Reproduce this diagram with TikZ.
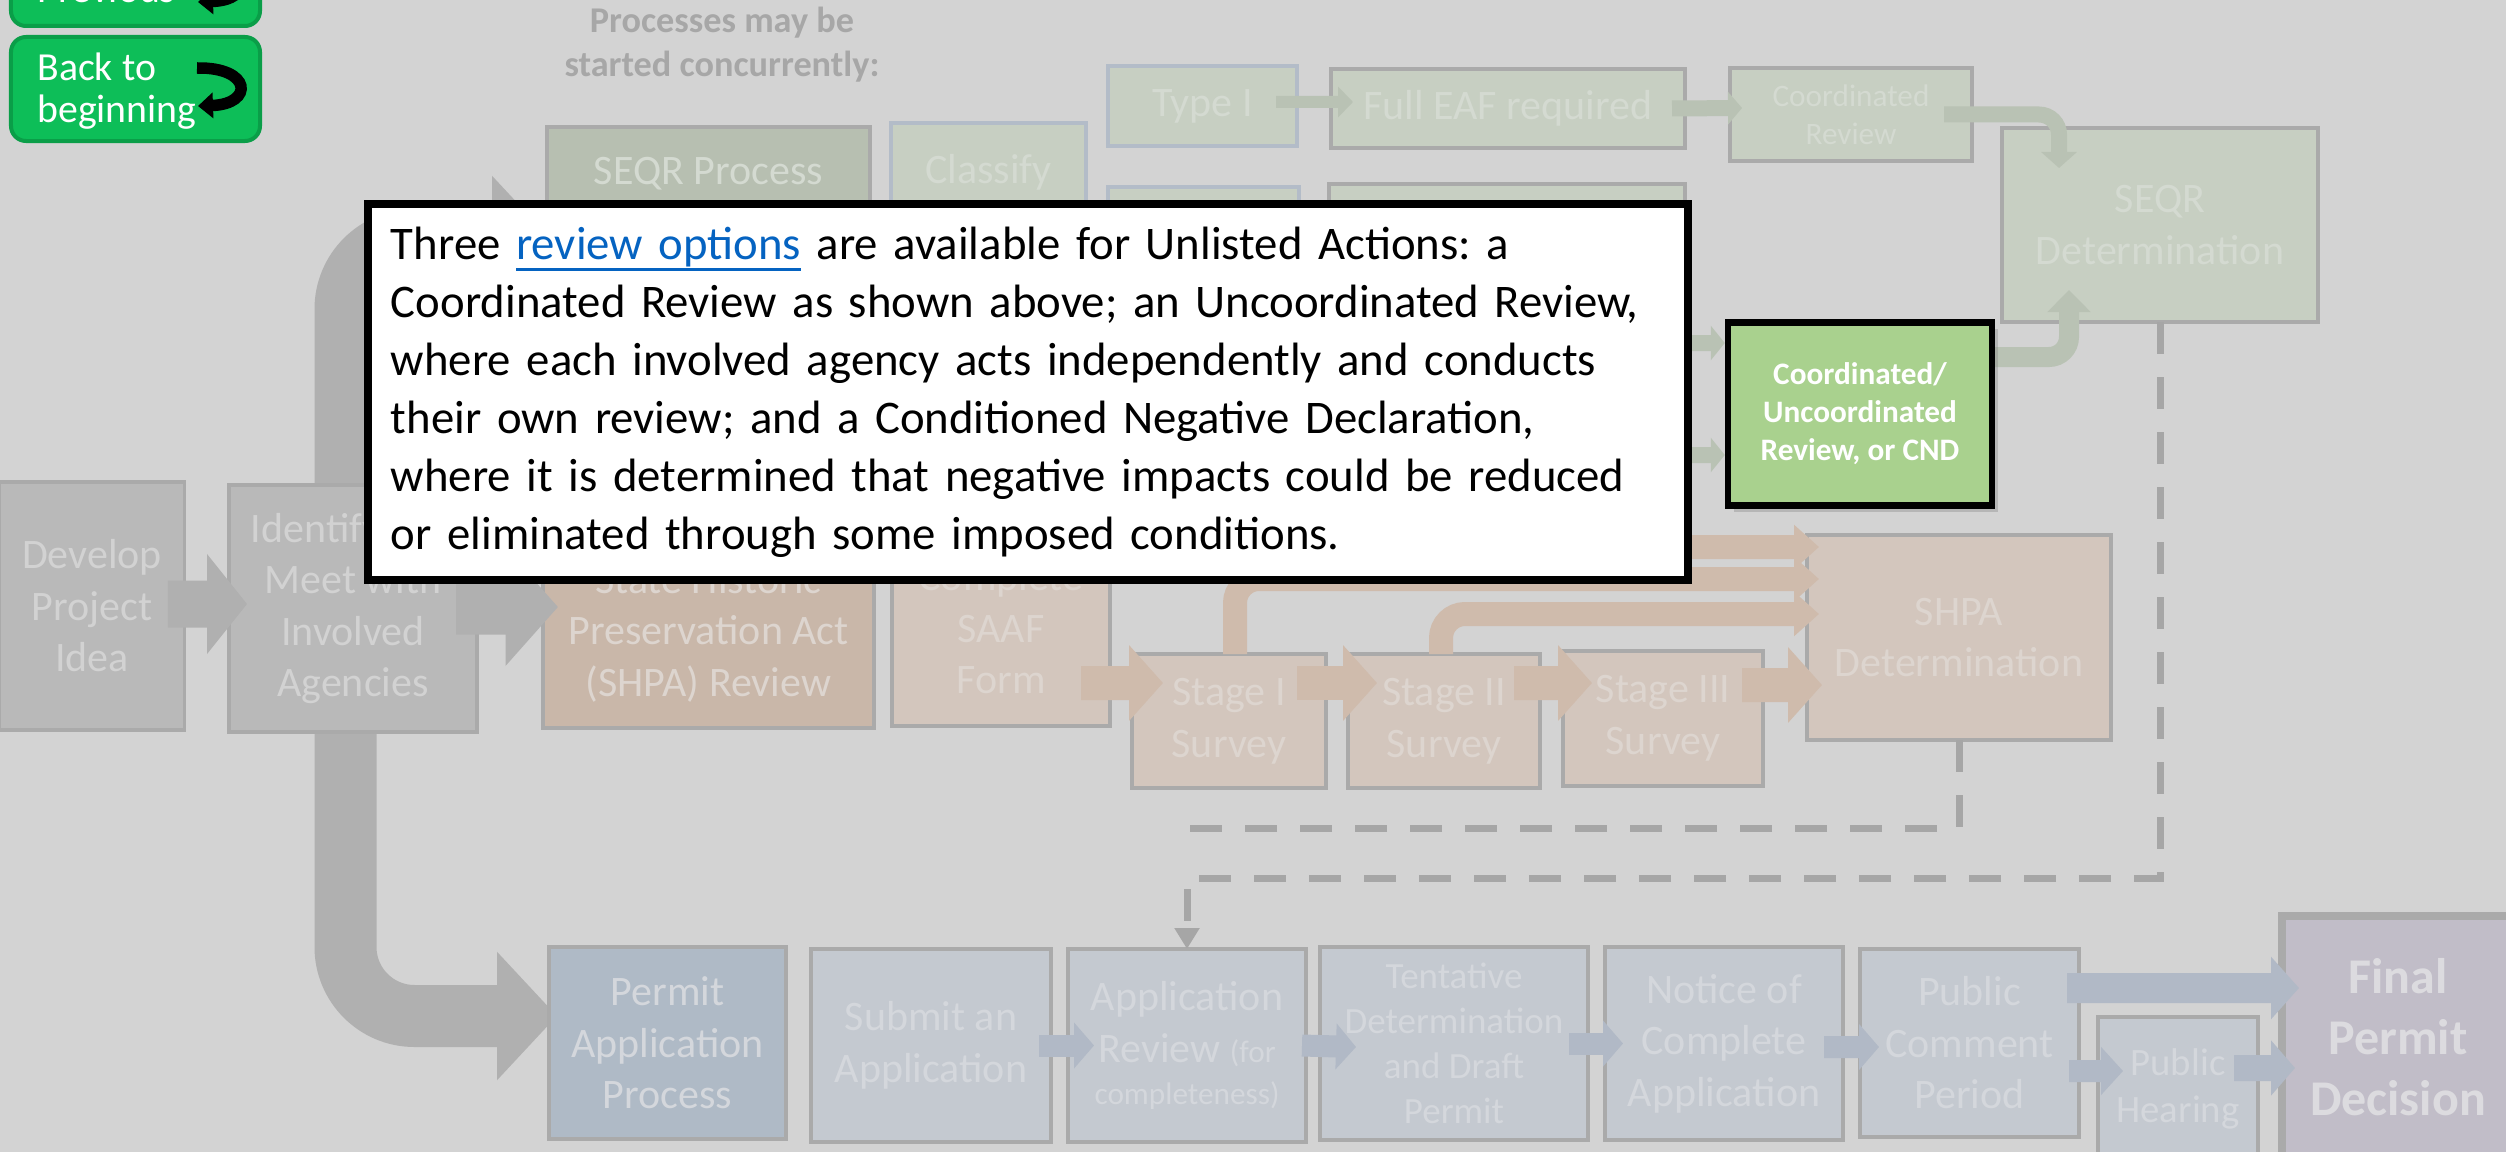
\documentclass[tikz,border=0pt]{standalone}
\usepackage{fontspec}
\setmainfont{Carlito}
\usetikzlibrary{arrows.meta,shadows}
\pgfdeclarelayer{back}
\pgfdeclarelayer{front}
\pgfsetlayers{back,main,front}

\definecolor{bgcol}{HTML}{D3D3D3}
\definecolor{edgecol}{HTML}{AAAAAA}
\definecolor{blueedge}{HTML}{B3BCC8}
\definecolor{grayfill}{HTML}{B9B9B9}
\definecolor{graytxt}{HTML}{D2D2D2}
\definecolor{grayarrow}{HTML}{B0B0B0}
\definecolor{seqrfill}{HTML}{C7CFC2}
\definecolor{seqrdark}{HTML}{B7BFB1}
\definecolor{seqrtxt}{HTML}{D4DAD1}
\definecolor{seqrarrow}{HTML}{B9C2B4}
\definecolor{tanfill}{HTML}{D3C6BD}
\definecolor{tandark}{HTML}{C9B7A9}
\definecolor{tantxt}{HTML}{DDD5CF}
\definecolor{tanarrow}{HTML}{CFBBAC}
\definecolor{permfill}{HTML}{C4C9D0}
\definecolor{permdark}{HTML}{AFBAC6}
\definecolor{permtxt}{HTML}{D4D7DC}
\definecolor{permarrow}{HTML}{B1B9C6}
\definecolor{finalfill}{HTML}{C1BDC8}
\definecolor{finaltxt}{HTML}{DCDBDF}
\definecolor{cndgreen}{HTML}{A9D18E}
\definecolor{btngreen}{HTML}{0DBE58}
\definecolor{btnedge}{HTML}{0A9E48}
\definecolor{titlegray}{HTML}{A7A7A7}
\definecolor{dashgray}{HTML}{A6A6A6}
\definecolor{linkblue}{HTML}{0563C1}

\newcommand\bxfont{\fontsize{16.8}{20.6}\selectfont}
\newcommand\smfont{\fontsize{14.8}{18}\selectfont}
\newcommand\tyfont{\fontsize{12.5}{15.2}\selectfont}
\newcommand\hrfont{\fontsize{15.5}{18.8}\selectfont}
\newcommand\finfont{\fontsize{20}{24.4}\selectfont\bfseries}
\newcommand\cndfont{\fontsize{12.5}{15.2}\selectfont\bfseries}
\newcommand\notefont{\fontsize{18.7}{23.2}\selectfont\frenchspacing}
\newcommand\linkul[1]{\setbox0\hbox{#1}\rlap{\rule[-4.6pt]{\wd0}{1.1pt}}\box0}

\begin{document}
\begin{tikzpicture}[x=0.4pt,y=-0.4pt,
  sz/.style 2 args={minimum width=#1, minimum height=#2},
  box/.style={draw=edgecol, line width=1.4pt, inner sep=0pt, outer sep=0pt, align=center, font=\bxfont},
  graybox/.style={box, fill=grayfill, text=graytxt},
  seqrbox/.style={box, fill=seqrfill, text=seqrtxt},
  tanbox/.style={box, fill=tanfill, text=tantxt},
  permbox/.style={box, fill=permfill, text=permtxt},
  arr/.style n args={3}{line width=#1, -{Triangle[width=#2,length=#3]}},
  grayarr/.style={draw=grayarrow},
  seqrarr/.style={draw=seqrarrow},
  tanarr/.style={draw=tanarrow},
  permarr/.style={draw=permarrow},
  dashln/.style={draw=dashgray, line width=2.8pt, dash pattern=on 12.8pt off 9.2pt},
  btn/.style={fill=btngreen, draw=btnedge, line width=1.6pt, rounded corners=6pt, sz={99.6pt}{41.6pt}},
  btnlbl/.style={text=white, align=left, inner sep=0pt, font={\fontsize{15.9}{16.6}\selectfont}}]
  \useasboundingbox (0,0) rectangle (2506,1152);
  \begin{pgfonlayer}{back}
    \fill[bgcol] (0,0) rectangle (2506,1152);
  \end{pgfonlayer}

  \node[btn] (prev) at (135.5,-26) {};
  \node[btnlbl, anchor=base west] (prevlbl) at (37,3) {Previous};
  \draw[line width=4.6pt, -{Triangle[width=10pt,length=6pt]}] (197,-35) .. controls (252,-36) and (254,0) .. (198,2);
  \node[btn] (back) at (135.5,89) {};
  \node[btnlbl, anchor=west] (backlbl) at (37,91) {Back to\\beginning};
  \draw[line width=4.6pt, -{Triangle[width=10pt,length=6pt]}] (197,68) .. controls (252,67) and (254,104) .. (198,106);

  \node[font={\fontsize{14.5}{17.6}\selectfont\bfseries}, text=titlegray, align=center] (ttl) at (722,45) {Processes may be\\started concurrently:};

  \node[graybox, sz={73.8pt}{99.2pt}] (devel) at (92,606) {Develop\\Project\\Idea};
  \node[graybox, sz={99.2pt}{98.8pt}] (ident) at (353,608.5) {Identify and\\Meet with\\Involved\\Agencies};

  \node[seqrbox, fill=seqrdark, sz={129.2pt}{37.6pt}] (seqrp) at (708.5,174) {SEQR Process};
  \node[seqrbox, draw=blueedge, sz={78pt}{39.2pt}] (classify) at (988.5,172) {Classify};
  \node[seqrbox, draw=blueedge, sz={75.6pt}{32pt}] (typei) at (1202.5,106) {Type I};
  \node[seqrbox, sz={141.6pt}{31.6pt}] (fulleaf) at (1508,108.5) {Full EAF required};
  \node[seqrbox, sz={96.8pt}{37.2pt}, font=\tyfont] (coordrev) at (1851,114.5) {Coordinated\\Review};
  \node[seqrbox, sz={126.4pt}{77.6pt}] (seqrdet) at (2160,225) {SEQR\\Determination};
  \node[seqrbox, draw=blueedge, sz={76.4pt}{32pt}] (typeii) at (1203.5,227) {};
  \node[seqrbox, sz={142.4pt}{32pt}] (eafii) at (1507,224) {};

  \node[tanbox, fill=tandark, sz={132.4pt}{76pt}] (shpar) at (708.5,633) {State Historic\\Preservation Act\\(SHPA) Review};
  \node[tanbox, sz={87.2pt}{78.4pt}] (saaf) at (1001,628) {Complete\\SAAF\\Form};
  \node[tanbox, sz={77.6pt}{53.6pt}] (stgI) at (1229,721) {Stage I\\Survey};
  \node[tanbox, sz={76.8pt}{53.6pt}] (stgII) at (1444,721) {Stage II\\Survey};
  \node[tanbox, sz={80pt}{54pt}] (stgIII) at (1663,718.5) {Stage III\\Survey};
  \node[tanbox, sz={121.6pt}{82pt}] (shpadet) at (1959,637.5) {SHPA\\Determination};

  \node[permbox, fill=permdark, sz={94.8pt}{76.8pt}] (permit) at (667.5,1043) {Permit\\Application\\Process};
  \node[permbox, sz={96pt}{77.2pt}] (submit) at (931,1045.5) {Submit an\\Application};
  \node[permbox, sz={95.2pt}{77.2pt}] (apprev) at (1187,1045.5) {Application\\Review {\tyfont(for}\\[-3.6pt]{\tyfont completeness)}};
  \node[permbox, sz={107.2pt}{77.2pt}, font=\smfont] (tent) at (1454,1043.5) {Tentative\\Determination\\and Draft\\Permit};
  \node[permbox, sz={95.2pt}{77.2pt}] (notice) at (1724,1043.5) {Notice of\\Complete\\Application};
  \node[permbox, sz={87.6pt}{75.2pt}] (comment) at (1969.5,1043) {Public\\Comment\\Period};
  \node[permbox, sz={64pt}{57.2pt}, font=\hrfont] (hearing) at (2178,1088.5) {Public\\Hearing};
  \node[box, line width=3.2pt, fill=finalfill, text=finaltxt, sz={92.8pt}{97.2pt}, font=\finfont] (final) at (2398,1037.5) {Final\\Permit\\Decision};

  \begin{pgfonlayer}{front}
    \node[draw=black, line width=2.6pt, fill=cndgreen, text=white, sz={105.6pt}{73.2pt}, align=center, font=\cndfont,
      drop shadow={shadow xshift=2.4pt, shadow yshift=-2.4pt, opacity=0.35}] (cnd) at (1860,414) {Coordinated/\\Uncoordinated\\Review, or CND};
    \node[draw=black, line width=3.2pt, fill=white, sz={528pt}{150.4pt}, text width=509.6pt, inner xsep=9.2pt, inner ysep=0pt,
      align=left, font=\notefont] (note) at (1028,392) {Three \textcolor{linkblue}{\linkul{review options}} are available for Unlisted Actions: a\\
      Coordinated Review as shown above; an Uncoordinated Review,\\
      where each involved agency acts independently and conducts\\
      their own review; and a Conditioned Negative Declaration,\\
      where it is determined that negative impacts could be reduced\\
      or eliminated through some imposed conditions.};
  \end{pgfonlayer}

  \coordinate (unl1) at (1640,343);
  \coordinate (unl2) at (1640,455);

  \begin{pgfonlayer}{back}
    \draw[grayarr, arr={24.8pt}{50pt}{24pt}, rounded corners=27.6pt] ([xshift=-3pt]ident.center) |- ([xshift=2pt,yshift=-26.4pt]seqrp.west);
    \draw[grayarr, arr={24.8pt}{50pt}{24pt}, rounded corners=27.6pt] ([xshift=-3pt]ident.center) |- ([xshift=3.2pt,yshift=10.8pt]permit.west);
  \end{pgfonlayer}

  \draw[grayarr, arr={18.8pt}{39.2pt}{16pt}] ([xshift=-6.6pt,yshift=0.8pt]devel.east) -- ([xshift=7.2pt,yshift=1.8pt]ident.west);
  \draw[grayarr, arr={22pt}{46pt}{21pt}] ([xshift=-8.4pt,yshift=0.6pt]ident.east) -- ([xshift=6pt,yshift=10.4pt]shpar.west);

  \draw[seqrarr, arr={4.8pt}{12pt}{6pt}] ([xshift=-8.4pt,yshift=1.6pt]typei.east) -- ([xshift=8.8pt,yshift=2.6pt]fulleaf.west);
  \draw[seqrarr, arr={6.4pt}{12.8pt}{5.6pt}] ([xshift=-5.2pt]fulleaf.east) -- ([xshift=4.8pt,yshift=2.6pt]coordrev.west);
  \draw[seqrarr, arr={6.4pt}{14pt}{6.4pt}, rounded corners=8pt] ([xshift=-11.2pt]coordrev.east) -| ([xshift=-40.4pt,yshift=-16pt]seqrdet.north);
  \draw[seqrarr, arr={8pt}{16.8pt}{8.8pt}, rounded corners=8pt] ([xshift=-2.8pt,yshift=22.8pt]cnd.east) -| ([xshift=-36.4pt,yshift=12.8pt]seqrdet.south);
  \draw[seqrarr, arr={6.4pt}{13.6pt}{5.6pt}] (unl1) -- ([yshift=28.4pt]cnd.west);
  \draw[seqrarr, arr={6.4pt}{13.6pt}{5.6pt}] (unl2) -- ([yshift=-16.4pt]cnd.west);

  \draw[tanarr, arr={13.6pt}{29.6pt}{13.6pt}] ([xshift=-11.6pt,yshift=-22pt]saaf.east) -- ([xshift=12.4pt,yshift=15.2pt]stgI.west);
  \draw[tanarr, arr={13.6pt}{29.6pt}{13.6pt}] ([xshift=-11.6pt,yshift=15.2pt]stgI.east) -- ([xshift=11.6pt,yshift=15.2pt]stgII.west);
  \draw[tanarr, arr={13.6pt}{29.6pt}{13.6pt}] ([xshift=-10.4pt,yshift=15.2pt]stgII.east) -- ([xshift=11.6pt,yshift=14.2pt]stgIII.west);
  \draw[tanarr, arr={13.6pt}{29.6pt}{13.6pt}] ([xshift=-8.4pt,yshift=13.4pt]stgIII.east) -- ([xshift=6pt,yshift=-19pt]shpadet.west);
  \draw[tanarr, arr={9.6pt}{17.2pt}{10pt}] ([xshift=-4pt,yshift=32.4pt]saaf.east) -- ([xshift=4.8pt,yshift=36.2pt]shpadet.west);
  \draw[tanarr, arr={9.6pt}{17.2pt}{10pt}, rounded corners=9.6pt] ([xshift=2.4pt]stgI.north) |- ([xshift=4.8pt,yshift=23.4pt]shpadet.west);
  \draw[tanarr, arr={9.6pt}{17.2pt}{10pt}, rounded corners=9.6pt] ([xshift=-1.2pt]stgII.north) |- ([xshift=4.8pt,yshift=9.4pt]shpadet.west);

  \draw[permarr, arr={8.8pt}{18pt}{8pt}] ([xshift=-4.8pt]submit.east) -- ([xshift=10.4pt]apprev.west);
  \draw[permarr, arr={8.8pt}{18pt}{8pt}] ([xshift=-1.6pt]apprev.east) -- ([xshift=14.4pt,yshift=-1.4pt]tent.west);
  \draw[permarr, arr={8.8pt}{18pt}{8pt}] ([xshift=-7.6pt]tent.east) -- ([xshift=7.2pt]notice.west);
  \draw[permarr, arr={8.8pt}{18pt}{8pt}] ([xshift=-7.6pt,yshift=-1.4pt]notice.east) -- ([xshift=7.6pt,yshift=-1.6pt]comment.west);
  \draw[permarr, arr={12pt}{24.4pt}{11.2pt}] ([xshift=-4.8pt,yshift=22pt]comment.east) -- ([xshift=6.8pt,yshift=19.8pt]final.west);
  \draw[permarr, arr={8.8pt}{18.8pt}{8.8pt}] ([xshift=-4pt,yshift=-11.2pt]comment.east) -- ([xshift=10pt,yshift=7pt]hearing.west);
  \draw[permarr, arr={10.4pt}{21.6pt}{9.6pt}] ([xshift=-9.6pt,yshift=8.2pt]hearing.east) -- ([xshift=5.2pt,yshift=-12.2pt]final.west);

  \draw[dashln, -{Triangle[width=9.6pt,length=8.4pt]}] (seqrdet.south) |- ([yshift=28.4pt]apprev.north) -- (apprev.north);
  \draw[dashln] (shpadet.south) |- ([yshift=48.4pt]apprev.north) -- ([yshift=44pt]apprev.north);
\end{tikzpicture}
\end{document}
